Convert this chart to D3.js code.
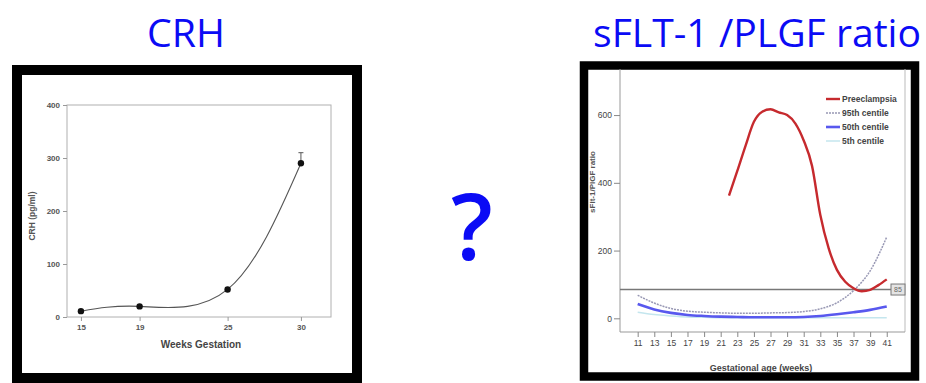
<!DOCTYPE html>
<html><head><meta charset="utf-8">
<script src="https://cdn.jsdelivr.net/npm/d3@7"></script>
<style>html,body{margin:0;padding:0;background:#fff;}svg{display:block;}</style>
</head><body>
<svg id="c" width="926" height="383"></svg>
<script>
// ---- Left chart: CRH ----
const crhWeeks = [15, 19, 25, 30];
const crhValues = [11, 20, 52, 290];
const crhErrors = [2, 2, 3, 20];
const crhXTicks = [15, 19, 25, 30];
const crhYTicks = [0, 100, 200, 300, 400];

// ---- Right chart: sFlt-1/PlGF ratio ----
const centileWeeks = [11, 13, 15, 17, 19, 21, 23, 25, 27, 29, 31, 33, 35, 37, 39, 41];
const p95 = [68, 45, 29, 21, 18, 16, 15, 15, 16, 17, 20, 28, 46, 82, 140, 240];
const p50 = [42, 26, 16, 10, 7, 5, 4, 3, 3, 3, 4, 7, 12, 18, 25, 35];
const p5  = [18, 11, 7, 4, 3, 2, 2, 2, 2, 2, 2, 2, 2, 2, 2, 2];
const preWeeks = [22, 23, 24, 25, 26, 27, 28, 29, 30, 31, 32, 33, 34, 35, 36, 37, 38, 39, 40, 41];
const preValues = [362, 435, 510, 580, 610, 617, 608, 600, 575, 525, 450, 305, 207, 143, 108, 89, 80, 84, 98, 115];
const ratioXTicks = [11, 13, 15, 17, 19, 21, 23, 25, 27, 29, 31, 33, 35, 37, 39, 41];
const ratioYTicks = [0, 200, 400, 600];
const cutoff = 85;
const legendLabels = ["Preeclampsia", "95th centile", "50th centile", "5th centile"];

const titles = ["CRH", "sFLT-1 /PLGF ratio"];

const svg = d3.select("#c");
const blue = "#0b0bf5";

// Titles
svg.append("text").attr("x", 186).attr("y", 47).attr("text-anchor", "middle")
  .attr("font-family", "Open Sans").attr("font-weight", 500).attr("font-size", 39).attr("fill", blue)
  .attr("textLength", 78).attr("lengthAdjust", "spacingAndGlyphs").text(titles[0]);
svg.append("text").attr("x", 757).attr("y", 47).attr("text-anchor", "middle")
  .attr("font-family", "Open Sans").attr("font-weight", 500).attr("font-size", 39).attr("fill", blue)
  .attr("textLength", 328).attr("lengthAdjust", "spacingAndGlyphs").text(titles[1]);
// Question mark
svg.append("text").attr("x", 472).attr("y", 260).attr("text-anchor", "middle")
  .attr("font-family", "Open Sans").attr("font-weight", 600).attr("font-size", 92).attr("fill", blue).text("?");

// Frames
svg.append("rect").attr("x", 17).attr("y", 70).attr("width", 340).attr("height", 308)
  .attr("fill", "none").attr("stroke", "#000").attr("stroke-width", 10);
svg.append("rect").attr("x", 584).attr("y", 65.5).attr("width", 331).attr("height", 311)
  .attr("fill", "none").attr("stroke", "#000").attr("stroke-width", 8.5);

// ===== Left chart =====
{
  const x = d3.scaleLinear().domain([14.05, 32.05]).range([67, 331]);
  const y = d3.scaleLinear().domain([0, 400]).range([317, 105]);
  const g = svg.append("g");
  g.append("rect").attr("x", 67).attr("y", 105).attr("width", 264).attr("height", 212)
    .attr("fill", "none").attr("stroke", "#b0b0b0").attr("stroke-width", 1);
  const ya = g.append("g").attr("transform", "translate(67,0)")
    .call(d3.axisLeft(y).tickValues(crhYTicks).tickSize(4).tickPadding(3));
  const xa = g.append("g").attr("transform", "translate(0,317)")
    .call(d3.axisBottom(x).tickValues(crhXTicks).tickSize(4).tickPadding(3));
  [ya, xa].forEach(a => {
    a.select(".domain").remove();
    a.selectAll("line").attr("stroke", "#999");
    a.selectAll("text").attr("font-family", "Liberation Sans").attr("font-weight", "bold")
      .attr("font-size", 8).attr("fill", "#555");
  });
  const pts = crhWeeks.map((w, i) => [w, crhValues[i]]);
  g.append("path").datum(pts)
    .attr("d", d3.line().x(d => x(d[0])).y(d => y(d[1])).curve(d3.curveNatural))
    .attr("fill", "none").attr("stroke", "#555").attr("stroke-width", 1.1);
  // error bars
  crhWeeks.forEach((w, i) => {
    const cx = x(w), top = y(crhValues[i] + crhErrors[i]);
    g.append("line").attr("x1", cx).attr("x2", cx).attr("y1", y(crhValues[i])).attr("y2", top)
      .attr("stroke", "#555").attr("stroke-width", 1);
    g.append("line").attr("x1", cx - 2.5).attr("x2", cx + 2.5).attr("y1", top).attr("y2", top)
      .attr("stroke", "#555").attr("stroke-width", 1);
  });
  g.selectAll("circle.p").data(pts).enter().append("circle")
    .attr("cx", d => x(d[0])).attr("cy", d => y(d[1])).attr("r", 3.2).attr("fill", "#111");
  g.append("text").attr("x", 201).attr("y", 348).attr("text-anchor", "middle")
    .attr("font-family", "Liberation Sans").attr("font-weight", "bold").attr("font-size", 10)
    .attr("fill", "#444").text("Weeks Gestation");
  g.append("text").attr("transform", "translate(35,216) rotate(-90)").attr("text-anchor", "middle")
    .attr("font-family", "Liberation Sans").attr("font-weight", "bold").attr("font-size", 8.5)
    .attr("fill", "#555").text("CRH (pg/ml)");
}

// ===== Right chart =====
{
  const x = d3.scaleLinear().domain([8.87, 43.2]).range([620, 905]);
  const y = d3.scaleLinear().domain([-40.4, 736]).range([332, 69]);
  const g = svg.append("g");
  // plot borders
  g.append("line").attr("x1", 620).attr("x2", 620).attr("y1", 69).attr("y2", 332).attr("stroke", "#999");
  g.append("line").attr("x1", 905).attr("x2", 905).attr("y1", 69).attr("y2", 332).attr("stroke", "#bbb");
  g.append("line").attr("x1", 620).attr("x2", 905).attr("y1", 332).attr("y2", 332).attr("stroke", "#999");
  const ya = g.append("g").attr("transform", "translate(620,0)")
    .call(d3.axisLeft(y).tickValues(ratioYTicks).tickSize(6).tickPadding(2));
  const xa = g.append("g").attr("transform", "translate(0,332)")
    .call(d3.axisBottom(x).tickValues(ratioXTicks).tickSize(5).tickPadding(3));
  [ya, xa].forEach(a => {
    a.select(".domain").remove();
    a.selectAll("line").attr("stroke", "#888");
    a.selectAll("text").attr("font-family", "Liberation Sans").attr("font-size", 8.5).attr("fill", "#444");
  });
  xa.selectAll("text").attr("font-size", 8.5);
  // cutoff line
  g.append("line").attr("x1", 620).attr("x2", 891).attr("y1", y(cutoff)).attr("y2", y(cutoff))
    .attr("stroke", "#777").attr("stroke-width", 1.5);
  g.append("rect").attr("x", 891).attr("y", y(cutoff) - 5.5).attr("width", 14).attr("height", 11)
    .attr("fill", "#e4e4e4").attr("stroke", "#777").attr("stroke-width", 1);
  g.append("text").attr("x", 898).attr("y", y(cutoff) + 2.5).attr("text-anchor", "middle")
    .attr("font-family", "Liberation Sans").attr("font-size", 7).attr("fill", "#666").text(String(cutoff));

  const line = d3.line().x(d => x(d[0])).y(d => y(d[1])).curve(d3.curveMonotoneX);
  const mk = (ws, vs) => ws.map((w, i) => [w, vs[i]]);
  g.append("path").datum(mk(centileWeeks, p5)).attr("d", line)
    .attr("fill", "none").attr("stroke", "#c4e6ee").attr("stroke-width", 1.5);
  g.append("path").datum(mk(centileWeeks, p50)).attr("d", line)
    .attr("fill", "none").attr("stroke", "#5858ee").attr("stroke-width", 2.6);
  g.append("path").datum(mk(centileWeeks, p95)).attr("d", line)
    .attr("fill", "none").attr("stroke", "#9898b4").attr("stroke-width", 1.5).attr("stroke-dasharray", "2,1");
  g.append("path").datum(mk(preWeeks, preValues)).attr("d", line)
    .attr("fill", "none").attr("stroke", "#c62a2e").attr("stroke-width", 2.4);

  // legend
  const legStyles = [
    {stroke: "#c62a2e", w: 2.4, dash: null},
    {stroke: "#9898b4", w: 1.5, dash: "2,1"},
    {stroke: "#5858ee", w: 2.6, dash: null},
    {stroke: "#c4e6ee", w: 1.5, dash: null}
  ];
  legendLabels.forEach((lab, i) => {
    const ly = 99 + i * 14;
    const st = legStyles[i];
    g.append("line").attr("x1", 826).attr("x2", 840).attr("y1", ly).attr("y2", ly)
      .attr("stroke", st.stroke).attr("stroke-width", st.w).attr("stroke-dasharray", st.dash);
    g.append("text").attr("x", 842).attr("y", ly + 3).attr("font-family", "Liberation Sans")
      .attr("font-weight", "bold").attr("font-size", 8.5).attr("fill", "#444").text(lab);
  });

  g.append("text").attr("x", 761).attr("y", 371).attr("text-anchor", "middle")
    .attr("font-family", "Liberation Sans").attr("font-weight", "bold").attr("font-size", 9)
    .attr("fill", "#444").text("Gestational age (weeks)");
  g.append("text").attr("transform", "translate(595,182) rotate(-90)").attr("text-anchor", "middle")
    .attr("font-family", "Liberation Sans").attr("font-weight", "bold").attr("font-size", 8)
    .attr("fill", "#555").text("sFlt-1/PlGF ratio");
}
</script>
</body></html>
